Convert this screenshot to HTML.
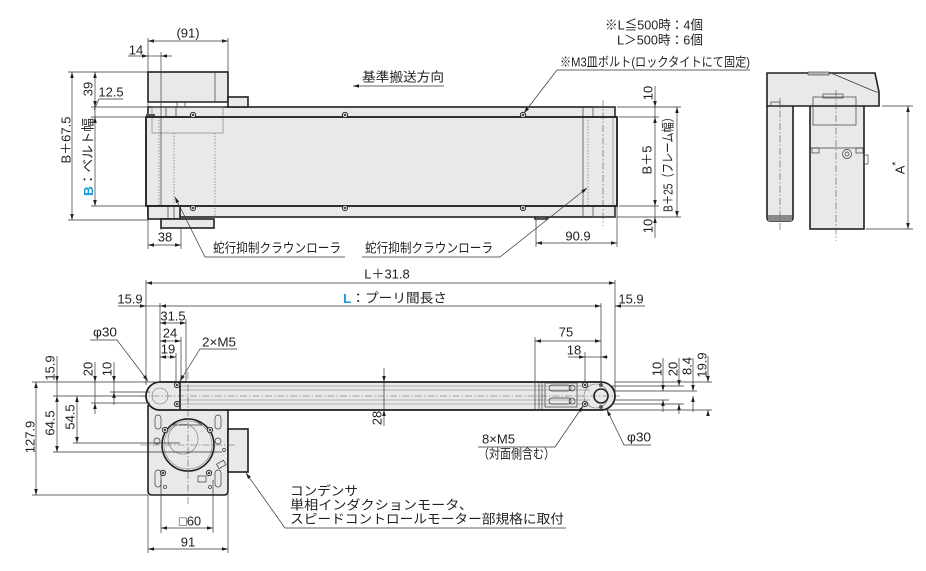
<!DOCTYPE html>
<html><head><meta charset="utf-8">
<style>
html,body{margin:0;padding:0;background:#fff;}
svg{display:block;}
text{font-family:"Liberation Sans","Noto Sans CJK JP",sans-serif;font-size:13px;fill:#231f20;}
.j{font-family:"Liberation Sans","Noto Sans CJK JP",sans-serif;}
.o{stroke:#231f20;stroke-width:1.6;fill:#e9e9e9;}
.oi{stroke:#231f20;stroke-width:1.6;fill:none;}
.t{stroke:#3a3a3a;stroke-width:0.7;fill:none;}
.g{stroke:#777;stroke-width:0.6;fill:none;}
.dd{stroke:#555;stroke-width:0.6;fill:none;stroke-dasharray:7 2 1.5 2;}
.dt{stroke:#777;stroke-width:0.7;fill:none;stroke-dasharray:1.5 1.5;}
.dl{stroke:#333;stroke-width:0.7;fill:none;}
</style></head>
<body>
<svg width="926" height="571" viewBox="0 0 926 571" xmlns="http://www.w3.org/2000/svg">
<defs>
<marker id="a" viewBox="0 0 10 6" refX="10" refY="3" markerWidth="7" markerHeight="3.6" orient="auto-start-reverse" markerUnits="userSpaceOnUse"><path d="M0,0 L10,3 L0,6z" fill="#231f20"/></marker>
<g id="s"><circle r="2.7" fill="#cfcfcf" stroke="#231f20" stroke-width="0.8"/><circle r="1" fill="#231f20"/></g>
</defs>

<!-- ================= TOP VIEW ================= -->
<!-- frame -->
<rect x="148" y="107" width="467" height="110" class="o"/>
<rect x="146" y="117" width="471" height="89" class="o" fill="#eeeeee"/>
<path d="M535,217 v2 h12 v-2" class="oi" stroke-width="1"/>
<!-- motor block -->
<rect x="148" y="72" width="80" height="30" class="o" fill="#e4e4e4"/>
<rect x="148" y="102" width="80" height="5" class="t" fill="#e6e6e6"/>
<rect x="228" y="97" width="20" height="10" class="o" fill="#e6e6e6"/>
<line x1="215" y1="72" x2="215" y2="102" class="t"/>
<rect x="177" y="102" width="8" height="5" class="t"/>
<rect x="166" y="107" width="10" height="10" class="t"/>
<rect x="152" y="107" width="71" height="26" class="g" fill="#e8e8e8"/>
<rect x="146" y="114" width="9" height="4" fill="#555"/>
<line x1="161" y1="52" x2="161" y2="230" class="t"/>
<line x1="159" y1="117" x2="159" y2="206" class="dt"/>
<line x1="174" y1="133" x2="174" y2="218" class="dt"/>
<line x1="215" y1="133" x2="215" y2="217" class="dt"/>
<rect x="148" y="206" width="32" height="13" class="o" fill="#e6e6e6"/>
<line x1="168" y1="206" x2="168" y2="219" class="t"/>
<line x1="174" y1="206" x2="174" y2="219" class="t"/>
<rect x="161" y="219" width="53" height="9" class="o" fill="#e6e6e6" stroke-width="1.2"/>
<!-- right end -->
<line x1="583" y1="107" x2="583" y2="217" class="t"/>
<line x1="588" y1="117" x2="588" y2="206" class="dt"/>
<rect x="593" y="107" width="22" height="10" class="t" fill="#e2e2e2"/>
<rect x="593" y="206" width="22" height="11" class="t" fill="#e2e2e2"/>
<line x1="613" y1="117" x2="613" y2="206" class="g"/>
<line x1="603" y1="100" x2="603" y2="226" class="dd" stroke="#333"/>
<rect x="146" y="117" width="471" height="89" class="oi"/>
<!-- screws -->
<use href="#s" x="193" y="115"/><use href="#s" x="345" y="115"/><use href="#s" x="523" y="115"/>
<use href="#s" x="193" y="208"/><use href="#s" x="345" y="208"/><use href="#s" x="523" y="208"/>

<!-- top view dims -->
<line x1="148" y1="38" x2="148" y2="72" class="dl"/>
<line x1="228" y1="38" x2="228" y2="72" class="dl"/>
<line x1="148" y1="41" x2="228" y2="41" class="dl" marker-start="url(#a)" marker-end="url(#a)"/>
<text x="188" y="33" text-anchor="middle" dominant-baseline="central">(91)</text>
<line x1="128" y1="56" x2="148" y2="56" class="dl" marker-end="url(#a)"/>
<line x1="148" y1="56" x2="161" y2="56" class="dl"/>
<line x1="172" y1="56" x2="161" y2="56" class="dl" marker-end="url(#a)"/>
<text x="136" y="50" text-anchor="middle" dominant-baseline="central">14</text>

<line x1="68" y1="72" x2="148" y2="72" class="dl"/>
<line x1="68" y1="220" x2="148" y2="220" class="dl"/>
<line x1="91" y1="107" x2="148" y2="107" class="dl"/>
<line x1="91" y1="117" x2="146" y2="117" class="dl"/>
<line x1="91" y1="206" x2="146" y2="206" class="dl"/>
<line x1="72" y1="72" x2="72" y2="220" class="dl" marker-start="url(#a)" marker-end="url(#a)"/>
<line x1="95" y1="72" x2="95" y2="107" class="dl" marker-start="url(#a)" marker-end="url(#a)"/>
<line x1="95" y1="107" x2="95" y2="117" class="dl"/>
<line x1="95" y1="117" x2="95" y2="206" class="dl" marker-start="url(#a)" marker-end="url(#a)"/>
<polyline points="94,110 99,99 123,99" class="dl"/>
<text x="111" y="92" text-anchor="middle" dominant-baseline="central">12.5</text>
<text transform="translate(66,140) rotate(-90)" text-anchor="middle" dominant-baseline="central">B＋67.5</text>
<text transform="translate(88,89) rotate(-90)" text-anchor="middle" dominant-baseline="central">39</text>
<text transform="translate(88,157) rotate(-90)" text-anchor="middle" dominant-baseline="central" textLength="78" lengthAdjust="spacingAndGlyphs"><tspan fill="#1a9ad6" font-weight="bold">B</tspan>：ベルト幅</text>

<line x1="148" y1="220" x2="148" y2="249" class="dl"/>
<line x1="181" y1="228" x2="181" y2="249" class="dl"/>
<line x1="148" y1="245" x2="181" y2="245" class="dl" marker-start="url(#a)" marker-end="url(#a)"/>
<text x="165" y="237" text-anchor="middle" dominant-baseline="central">38</text>

<!-- crown roller labels -->
<polyline points="175,197 205,257 345,257" class="dl" marker-start="url(#a)"/>
<text x="213" y="248" dominant-baseline="central" textLength="128" lengthAdjust="spacingAndGlyphs">蛇行抑制クラウンローラ</text>
<polyline points="362,257 500,257 587,188" class="dl" marker-end="url(#a)"/>
<text x="365" y="248" dominant-baseline="central" textLength="128" lengthAdjust="spacingAndGlyphs">蛇行抑制クラウンローラ</text>

<!-- direction -->
<line x1="444" y1="86" x2="353" y2="86" class="dl" marker-end="url(#a)"/>
<text x="362" y="77" dominant-baseline="central" textLength="82" lengthAdjust="spacingAndGlyphs">基準搬送方向</text>

<!-- notes -->
<text x="703" y="25" text-anchor="end" dominant-baseline="central" textLength="98" lengthAdjust="spacingAndGlyphs">※L≦500時：4個</text>
<text x="703" y="40" text-anchor="end" dominant-baseline="central" textLength="86" lengthAdjust="spacingAndGlyphs">L＞500時：6個</text>
<text x="560" y="62" dominant-baseline="central" textLength="190" lengthAdjust="spacingAndGlyphs">※M3皿ボルト(ロックタイトにて固定)</text>
<polyline points="750,70 557,70 524,113" class="dl" marker-end="url(#a)"/>

<!-- right dims top -->
<line x1="617" y1="107" x2="681" y2="107" class="dl"/>
<line x1="619" y1="117" x2="659" y2="117" class="dl"/>
<line x1="619" y1="206" x2="659" y2="206" class="dl"/>
<line x1="617" y1="217" x2="681" y2="217" class="dl"/>
<line x1="655" y1="86" x2="655" y2="107" class="dl" marker-end="url(#a)"/>
<line x1="655" y1="107" x2="655" y2="117" class="dl"/>
<line x1="655" y1="117" x2="655" y2="206" class="dl" marker-start="url(#a)" marker-end="url(#a)"/>
<line x1="655" y1="206" x2="655" y2="217" class="dl"/>
<line x1="655" y1="238" x2="655" y2="217" class="dl" marker-end="url(#a)"/>
<line x1="677" y1="107" x2="677" y2="217" class="dl" marker-start="url(#a)" marker-end="url(#a)"/>
<text transform="translate(648,93) rotate(-90)" text-anchor="middle" dominant-baseline="central">10</text>
<text transform="translate(648,226) rotate(-90)" text-anchor="middle" dominant-baseline="central">10</text>
<text transform="translate(647,160) rotate(-90)" text-anchor="middle" dominant-baseline="central">B＋5</text>
<text transform="translate(668,162) rotate(-90)" text-anchor="middle" dominant-baseline="central" textLength="100" lengthAdjust="spacingAndGlyphs">B＋25（フレーム幅）</text>

<line x1="536" y1="219" x2="536" y2="247" class="dl"/>
<line x1="617" y1="207" x2="617" y2="247" class="dl"/>
<line x1="536" y1="243" x2="617" y2="243" class="dl" marker-start="url(#a)" marker-end="url(#a)"/>
<text x="578" y="236" text-anchor="middle" dominant-baseline="central">90.9</text>

<!-- ================= SIDE VIEW ================= -->
<rect x="767" y="104" width="26" height="117" rx="3" class="o" fill="#e6e6e6"/>
<rect x="768" y="215" width="24" height="6" fill="#8a8a8a"/>
<rect x="810" y="104" width="54" height="125" class="o" fill="#e6e6e6"/>
<path d="M767,73 H875 L879,92 V106 H767 Z" class="o" fill="#e4e4e4"/>
<line x1="831" y1="73" x2="876" y2="92" class="t"/>
<line x1="876" y1="92" x2="879" y2="92" class="t"/>
<rect x="808" y="72" width="21" height="3" fill="#bbb" stroke="#333" stroke-width="0.6"/>
<rect x="771" y="102" width="9" height="4" class="t"/>
<rect x="813" y="97" width="43" height="28" class="t" fill="#ececec"/>
<rect x="823" y="94" width="20" height="4" class="t" fill="#ccc"/>
<line x1="810" y1="148" x2="864" y2="148" class="t"/>
<rect x="812" y="148" width="7" height="5" class="t"/>
<rect x="856" y="148" width="7" height="5" class="t"/>
<circle cx="847" cy="154" r="4.5" class="t" fill="#ccc"/>
<circle cx="847" cy="154" r="2" class="t"/>
<rect x="864" y="155" width="4" height="9" class="t"/>
<line x1="836" y1="90" x2="836" y2="241" class="dd"/>
<line x1="780" y1="98" x2="780" y2="230" class="dd"/>
<line x1="882" y1="106" x2="913" y2="106" class="dl"/>
<line x1="866" y1="229" x2="913" y2="229" class="dl"/>
<line x1="908" y1="106" x2="908" y2="229" class="dl" marker-start="url(#a)" marker-end="url(#a)"/>
<text transform="translate(900,168) rotate(-90)" text-anchor="middle" dominant-baseline="central">A<tspan dy="-4" font-size="10">*</tspan></text>

<!-- ================= BOTTOM VIEW ================= -->
<!-- plate -->
<path d="M148,405 V491 Q148,495 152,495 H224 Q228,495 228,491 V410" class="o" fill="#e6e6e6"/>
<rect x="228" y="429" width="20" height="43" class="o" fill="#e6e6e6"/>
<!-- frame -->
<path d="M160,382 H601 A14,14 0 0 1 601,410 H160 A14,14 0 0 1 160,382 Z" class="o" fill="#e8e8e8"/>
<line x1="180" y1="386" x2="590" y2="386" class="g"/>
<line x1="180" y1="390" x2="590" y2="390" class="g"/>
<line x1="180" y1="400" x2="590" y2="400" class="g"/>
<line x1="180" y1="404" x2="590" y2="404" class="g"/>
<line x1="140" y1="396" x2="620" y2="396" class="dd"/>
<line x1="180" y1="382" x2="180" y2="410" class="oi" stroke-width="1.2"/>
<circle cx="160" cy="396" r="8" class="g"/>
<use href="#s" x="177" y="385"/><use href="#s" x="177" y="404"/>
<!-- right tensioner -->
<line x1="535" y1="382" x2="535" y2="410" class="t"/>
<line x1="539" y1="382" x2="539" y2="410" class="t"/>
<line x1="542" y1="382" x2="542" y2="410" class="t"/>
<rect x="545" y="383" width="32" height="24" class="t" fill="#e2e2e2"/>
<rect x="549" y="385" width="22" height="6" rx="3" class="t" fill="#fff"/>
<rect x="549" y="398" width="22" height="6" rx="3" class="t" fill="#fff"/>
<circle cx="572" cy="388" r="3" class="t"/>
<circle cx="572" cy="401" r="3" class="t"/>
<use href="#s" x="585" y="385"/><use href="#s" x="585" y="404"/>
<circle cx="596" cy="396" r="12" class="g" stroke="#aaa"/>
<circle cx="601" cy="396" r="7" class="oi" stroke-width="1.2"/>
<circle cx="601" cy="385" r="2" fill="#555"/>
<circle cx="601" cy="407" r="2" fill="#555"/>
<path d="M160,382 H601 A14,14 0 0 1 601,410 H160 A14,14 0 0 1 160,382 Z" class="oi"/>
<!-- motor -->
<path d="M173,425 Q187,412 202,425 Z" class="t" fill="#e0e0e0"/>
<circle cx="188" cy="445" r="26" class="oi" stroke-width="1.4" fill="#e9e9e9"/>
<circle cx="188" cy="445" r="24" class="g"/>
<circle cx="183" cy="439" r="15" class="g"/>
<rect x="155" y="415" width="6" height="14" rx="3" class="t"/>
<rect x="215" y="415" width="6" height="14" rx="3" class="t"/>
<rect x="155" y="470" width="6" height="17" rx="3" class="t"/>
<rect x="215" y="470" width="6" height="17" rx="3" class="t"/>
<use href="#s" x="165" y="430"/><use href="#s" x="210" y="430"/>
<use href="#s" x="163" y="473"/><use href="#s" x="209" y="473"/>
<circle cx="157" cy="441" r="3" class="t"/><circle cx="218" cy="441" r="3" class="t"/>
<circle cx="165" cy="487" r="1.5" class="t"/><circle cx="210" cy="487" r="1.5" class="t"/>
<circle cx="224" cy="450" r="1.5" class="t"/>
<rect x="198" y="476" width="8" height="6" class="t"/>
<rect x="217" y="462" width="8" height="5" class="t" transform="rotate(-30 221 464)"/>
<line x1="188" y1="372" x2="188" y2="505" class="dd"/>
<line x1="140" y1="445" x2="236" y2="445" class="dd"/>

<!-- bottom view dims -->
<line x1="146" y1="280" x2="146" y2="385" class="dl"/>
<line x1="615" y1="280" x2="615" y2="393" class="dl"/>
<line x1="160" y1="303" x2="160" y2="382" class="dl"/>
<line x1="601" y1="303" x2="601" y2="382" class="dl"/>
<line x1="146" y1="283" x2="615" y2="283" class="dl" marker-start="url(#a)" marker-end="url(#a)"/>
<text x="387" y="274" text-anchor="middle" dominant-baseline="central">L＋31.8</text>
<line x1="118" y1="306" x2="146" y2="306" class="dl" marker-end="url(#a)"/>
<line x1="146" y1="306" x2="160" y2="306" class="dl"/>
<line x1="160" y1="306" x2="601" y2="306" class="dl" marker-start="url(#a)" marker-end="url(#a)"/>
<line x1="645" y1="306" x2="615" y2="306" class="dl" marker-end="url(#a)"/>
<text x="130" y="299" text-anchor="middle" dominant-baseline="central">15.9</text>
<text x="631" y="299" text-anchor="middle" dominant-baseline="central">15.9</text>
<text x="343" y="298" dominant-baseline="central" textLength="104" lengthAdjust="spacingAndGlyphs"><tspan fill="#1a9ad6" font-weight="bold">L</tspan>：プーリ間長さ</text>

<line x1="186" y1="319" x2="186" y2="382" class="dl"/>
<line x1="181" y1="337" x2="181" y2="382" class="dl"/>
<line x1="176" y1="353" x2="176" y2="382" class="dl"/>
<line x1="160" y1="323" x2="186" y2="323" class="dl" marker-start="url(#a)" marker-end="url(#a)"/>
<line x1="160" y1="341" x2="181" y2="341" class="dl" marker-start="url(#a)" marker-end="url(#a)"/>
<line x1="160" y1="357" x2="176" y2="357" class="dl" marker-start="url(#a)" marker-end="url(#a)"/>
<text x="173" y="316" text-anchor="middle" dominant-baseline="central">31.5</text>
<text x="170" y="333" text-anchor="middle" dominant-baseline="central">24</text>
<text x="168" y="349" text-anchor="middle" dominant-baseline="central">19</text>
<polyline points="237,349 200,349 180,381" class="dl" marker-end="url(#a)"/>
<text x="202" y="342" dominant-baseline="central" textLength="34" lengthAdjust="spacingAndGlyphs">2×M5</text>
<polyline points="90,340 117,340 148,381" class="dl" marker-end="url(#a)"/>
<text x="93" y="332" dominant-baseline="central" textLength="24" lengthAdjust="spacingAndGlyphs">φ30</text>

<!-- left vertical dims -->
<line x1="32" y1="382" x2="160" y2="382" class="dl"/>
<line x1="32" y1="495" x2="148" y2="495" class="dl"/>
<line x1="53" y1="396" x2="146" y2="396" class="dl"/>
<line x1="91" y1="403" x2="150" y2="403" class="dl"/>
<line x1="110" y1="392" x2="150" y2="392" class="dl"/>
<line x1="73" y1="443" x2="180" y2="443" class="dl"/>
<line x1="53" y1="452" x2="222" y2="452" class="dl"/>
<line x1="36" y1="382" x2="36" y2="495" class="dl" marker-start="url(#a)" marker-end="url(#a)"/>
<line x1="57" y1="356" x2="57" y2="382" class="dl" marker-end="url(#a)"/>
<line x1="57" y1="382" x2="57" y2="396" class="dl"/>
<line x1="57" y1="396" x2="57" y2="452" class="dl" marker-start="url(#a)" marker-end="url(#a)"/>
<line x1="77" y1="396" x2="77" y2="443" class="dl" marker-start="url(#a)" marker-end="url(#a)"/>
<line x1="95" y1="362" x2="95" y2="382" class="dl" marker-end="url(#a)"/>
<line x1="95" y1="382" x2="95" y2="403" class="dl"/>
<line x1="95" y1="414" x2="95" y2="403" class="dl" marker-end="url(#a)"/>
<line x1="114" y1="362" x2="114" y2="382" class="dl" marker-end="url(#a)"/>
<line x1="114" y1="382" x2="114" y2="392" class="dl"/>
<line x1="114" y1="405" x2="114" y2="392" class="dl" marker-end="url(#a)"/>
<text transform="translate(30,437) rotate(-90)" text-anchor="middle" dominant-baseline="central">127.9</text>
<text transform="translate(50,368) rotate(-90)" text-anchor="middle" dominant-baseline="central">15.9</text>
<text transform="translate(50,423) rotate(-90)" text-anchor="middle" dominant-baseline="central">64.5</text>
<text transform="translate(70,417) rotate(-90)" text-anchor="middle" dominant-baseline="central">54.5</text>
<text transform="translate(88,369) rotate(-90)" text-anchor="middle" dominant-baseline="central">20</text>
<text transform="translate(107,369) rotate(-90)" text-anchor="middle" dominant-baseline="central">10</text>

<!-- bottom plate dims -->
<line x1="148" y1="495" x2="148" y2="553" class="dl"/>
<line x1="228" y1="472" x2="228" y2="553" class="dl"/>
<line x1="161" y1="480" x2="161" y2="533" class="dl"/>
<line x1="213" y1="480" x2="213" y2="533" class="dl"/>
<line x1="161" y1="528" x2="213" y2="528" class="dl" marker-start="url(#a)" marker-end="url(#a)"/>
<line x1="148" y1="549" x2="228" y2="549" class="dl" marker-start="url(#a)" marker-end="url(#a)"/>
<text x="190" y="521" text-anchor="middle" dominant-baseline="central">□60</text>
<text x="188" y="542" text-anchor="middle" dominant-baseline="central">91</text>

<!-- 28 -->
<line x1="384" y1="368" x2="384" y2="382" class="dl" marker-end="url(#a)"/>
<line x1="384" y1="382" x2="384" y2="410" class="dl"/>
<line x1="384" y1="426" x2="384" y2="410" class="dl" marker-end="url(#a)"/>
<text transform="translate(377,418) rotate(-90)" text-anchor="middle" dominant-baseline="central">28</text>

<!-- right dims bottom -->
<line x1="535" y1="337" x2="535" y2="382" class="dl"/>
<line x1="585" y1="352" x2="585" y2="382" class="dl"/>
<line x1="535" y1="341" x2="601" y2="341" class="dl" marker-start="url(#a)" marker-end="url(#a)"/>
<line x1="568" y1="357" x2="585" y2="357" class="dl" marker-end="url(#a)"/>
<line x1="585" y1="357" x2="601" y2="357" class="dl"/>
<line x1="608" y1="357" x2="601" y2="357" class="dl" marker-end="url(#a)"/>
<text x="566" y="332" text-anchor="middle" dominant-baseline="central">75</text>
<text x="574" y="350" text-anchor="middle" dominant-baseline="central">18</text>

<line x1="615" y1="382" x2="712" y2="382" class="dl"/>
<line x1="612" y1="386" x2="684" y2="386" class="dl"/>
<line x1="614" y1="391" x2="697" y2="391" class="dl"/>
<line x1="614" y1="400" x2="669" y2="400" class="dl"/>
<line x1="612" y1="404" x2="684" y2="404" class="dl"/>
<line x1="603" y1="410" x2="712" y2="410" class="dl"/>
<line x1="663" y1="358" x2="663" y2="391" class="dl" marker-end="url(#a)"/>
<line x1="663" y1="412" x2="663" y2="400" class="dl" marker-end="url(#a)"/>
<line x1="679" y1="358" x2="679" y2="386" class="dl" marker-end="url(#a)"/>
<line x1="679" y1="414" x2="679" y2="404" class="dl" marker-end="url(#a)"/>
<line x1="693" y1="358" x2="693" y2="391" class="dl" marker-end="url(#a)"/>
<line x1="693" y1="412" x2="693" y2="396" class="dl" marker-end="url(#a)"/>
<line x1="708" y1="356" x2="708" y2="382" class="dl" marker-end="url(#a)"/>
<line x1="708" y1="414" x2="708" y2="410" class="dl" marker-end="url(#a)"/>
<text transform="translate(657,369) rotate(-90)" text-anchor="middle" dominant-baseline="central">10</text>
<text transform="translate(673,369) rotate(-90)" text-anchor="middle" dominant-baseline="central">20</text>
<text transform="translate(687,366) rotate(-90)" text-anchor="middle" dominant-baseline="central">8.4</text>
<text transform="translate(702,365) rotate(-90)" text-anchor="middle" dominant-baseline="central">19.9</text>

<polyline points="478,447 555,447 583,406" class="dl" marker-end="url(#a)"/>
<text x="482" y="439" dominant-baseline="central" textLength="33" lengthAdjust="spacingAndGlyphs">8×M5</text>
<text x="478" y="454" dominant-baseline="central" textLength="77" lengthAdjust="spacingAndGlyphs">（対面側含む）</text>
<polyline points="651,445 624,445 607,410" class="dl" marker-end="url(#a)"/>
<text x="627" y="437" dominant-baseline="central" textLength="24" lengthAdjust="spacingAndGlyphs">φ30</text>

<!-- capacitor label -->
<polyline points="566,528 285,528 246,473" class="dl" marker-end="url(#a)"/>
<text x="290" y="491" dominant-baseline="central" textLength="68" lengthAdjust="spacingAndGlyphs">コンデンサ</text>
<text x="290" y="505" dominant-baseline="central" textLength="183" lengthAdjust="spacingAndGlyphs">単相インダクションモータ、</text>
<text x="290" y="519" dominant-baseline="central" textLength="274" lengthAdjust="spacingAndGlyphs">スピードコントロールモーター部規格に取付</text>
</svg>
</body></html>
